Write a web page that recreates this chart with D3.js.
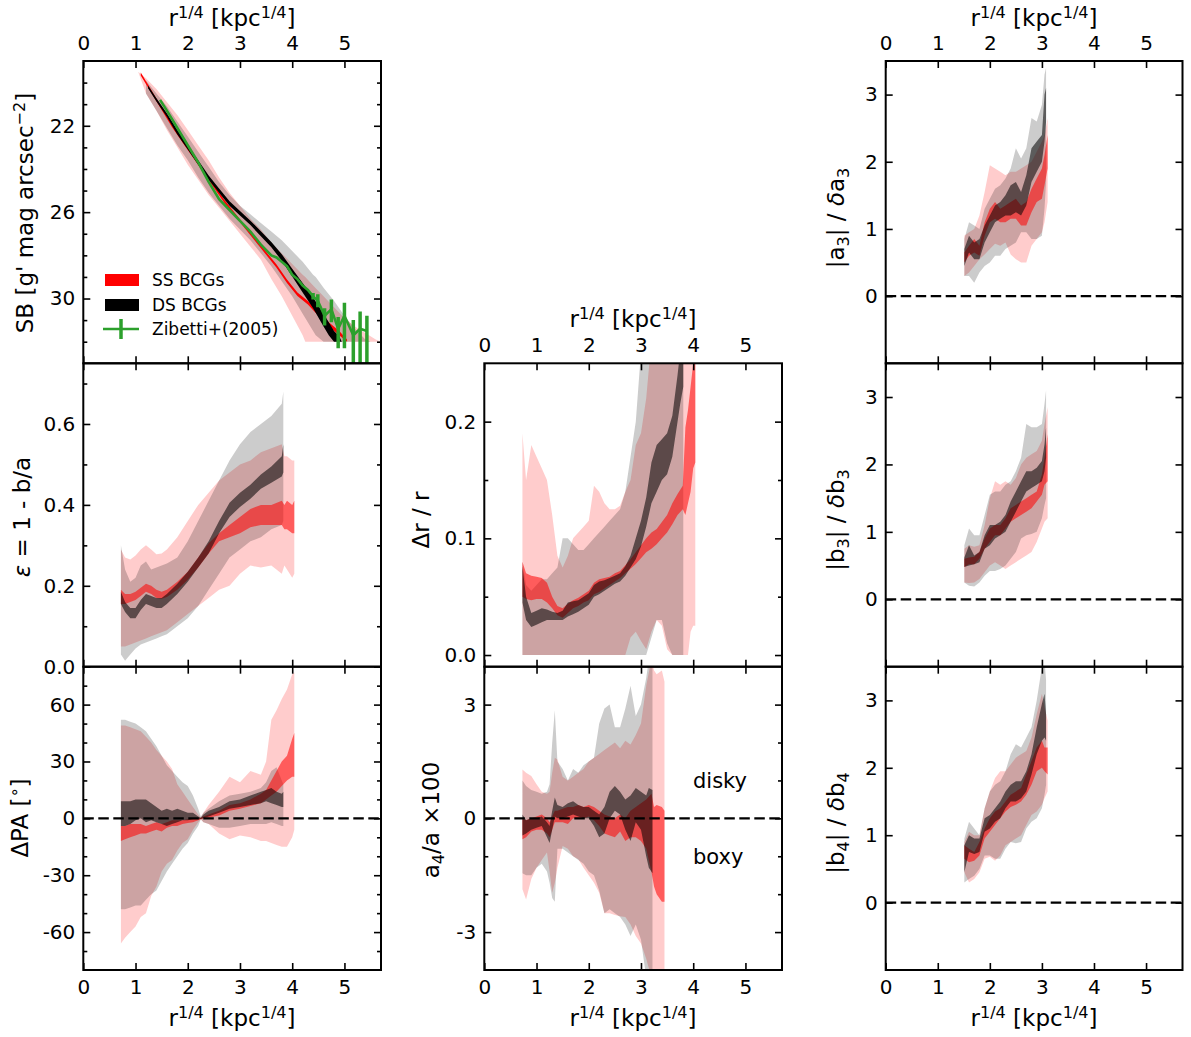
<!DOCTYPE html>
<html><head><meta charset="utf-8">
<script src="https://cdn.jsdelivr.net/npm/d3@7"></script>
<style>body{margin:0;background:#fff}svg{display:block}text{font-family:"DejaVu Sans",sans-serif}</style>
</head><body><svg id="c" width="1191" height="1037"></svg>
<script>
// ---------------- DATA ----------------
const xTicks=[0,1,2,3,4,5];
const xTickLabels=["0","1","2","3","4","5"];

// SB panel
const sbTicks=[22,26,30], sbTickLabels=["22","26","30"], sbMinor=[20,21,23,24,25,27,28,29,31,32];
const sbRX=[1.05,1.2,1.4,1.6,1.8,2.0,2.2,2.4,2.6,2.8,3.0,3.2,3.4,3.6,3.8,4.0,4.2,4.25,4.4,4.6,4.8,5.0,5.2,5.4,5.6,5.7];
const sbRHi=[19.5,19.8,20.3,20.9,21.5,22.2,22.9,23.6,24.4,25.1,25.7,26.3,26.8,27.4,27.9,28.4,28.9,29.0,29.4,29.9,30.4,30.9,31.3,31.6,31.9,32.0];
const sbRLo=[19.5,20.5,21.3,22.2,23.0,23.8,24.5,25.2,25.8,26.4,27.0,27.6,28.2,29.1,29.9,30.8,31.7,32.0,32.0,32.0,32.0,32.0,32.0,32.0,32.0,32.0];
const sbBX=[1.2,1.4,1.6,1.8,2.0,2.2,2.4,2.6,2.8,3.0,3.2,3.4,3.6,3.8,4.0,4.2,4.4,4.45,4.6,4.8,5.0,5.2,5.4,5.5];
const sbBHi=[19.9,20.5,21.1,21.8,22.5,23.2,23.9,24.6,25.2,25.7,26.1,26.5,26.9,27.3,27.8,28.3,28.9,29.0,29.5,30.1,30.8,31.4,31.9,32.0];
const sbBLo=[20.5,21.3,22.1,22.9,23.6,24.4,25.1,25.7,26.3,26.8,27.3,27.9,28.5,29.2,29.9,30.7,31.5,31.7,32.0,32.0,32.0,32.0,32.0,32.0];
const sbRMX=[1.1,1.3,1.5,1.7,1.9,2.1,2.3,2.5,2.7,2.9,3.1,3.3,3.5,3.7,3.9,4.1,4.3,4.5,4.7,4.9,5.05];
const sbRMHi=[19.53,20.33,21.13,21.93,22.63,23.33,24.03,24.73,25.43,26.03,26.63,27.23,27.83,28.43,29.12,29.72,30.12,30.6,31.1,31.5,31.9];
const sbRMLo=[19.67,20.47,21.27,22.07,22.77,23.47,24.17,24.87,25.57,26.17,26.77,27.37,27.97,28.57,29.28,29.88,30.28,30.8,31.3,31.7,32.0];
const sbBMX=[1.24,1.4,1.6,1.8,2.0,2.2,2.4,2.6,2.8,3.0,3.2,3.4,3.6,3.8,4.0,4.2,4.4,4.6,4.7,4.8,4.9,4.95];
const sbBMHi=[20.14,20.72,21.42,22.2,22.9,23.6,24.3,24.9,25.5,25.95,26.4,26.88,27.38,27.95,28.62,29.28,29.95,30.7,31.1,31.5,31.75,32.0];
const sbBMLo=[20.26,20.88,21.58,22.4,23.1,23.8,24.5,25.1,25.7,26.15,26.6,27.12,27.62,28.25,28.98,29.72,30.45,31.3,31.7,32.0,32.0,32.0];
// Zibetti+(2005)
const zibX=[1.47,1.6,1.8,2.0,2.2,2.4,2.6,2.8,3.0,3.2,3.4,3.6,3.7,3.8,3.9,4.0,4.1,4.2,4.3,4.4,4.49,4.62,4.75,4.88,5.0,5.17,5.3,5.43];
const zibSB=[20.8,21.3,22.1,22.9,23.7,24.6,25.4,25.9,26.4,26.9,27.5,28.0,28.1,28.3,28.5,28.9,29.1,29.4,29.6,29.9,30.1,30.8,30.5,31.4,30.8,31.7,31.4,31.5];
const zibErrUp=[0,0,0,0,0,0,0,0,0,0,0,0,0,0,0,0,0,0,0,0.15,0.3,0.35,0.45,0.55,0.6,0.7,0.8,0.7];
const zibErrDown=[0,0,0,0,0,0,0,0,0,0,0,0,0,0,0,0,0,0,0,0.15,0.3,0.45,0.6,0.9,1.5,2,2,2];

// ellipticity
const epsTicks=[0,0.2,0.4,0.6], epsTickLabels=["0.0","0.2","0.4","0.6"], epsMinor=[0.1,0.3,0.5,0.7];
const epsRX=[0.72,0.8,0.9,1.0,1.1,1.2,1.3,1.4,1.5,1.6,1.8,2.0,2.2,2.4,2.6,2.8,3.0,3.2,3.4,3.6,3.8,3.85,3.9,4.0,4.04];
const epsRHi=[0.29,0.27,0.265,0.275,0.29,0.30,0.29,0.278,0.28,0.29,0.32,0.36,0.40,0.43,0.46,0.48,0.50,0.51,0.53,0.54,0.55,0.52,0.52,0.51,0.51];
const epsRLo=[0.05,0.05,0.055,0.06,0.065,0.07,0.075,0.08,0.085,0.09,0.11,0.13,0.15,0.17,0.19,0.20,0.23,0.25,0.245,0.25,0.23,0.25,0.24,0.22,0.23];
const epsRMHi=[0.19,0.18,0.18,0.185,0.195,0.205,0.20,0.19,0.185,0.19,0.21,0.235,0.27,0.305,0.33,0.35,0.37,0.39,0.40,0.40,0.41,0.40,0.41,0.40,0.41];
const epsRMLo=[0.155,0.155,0.16,0.165,0.175,0.185,0.18,0.17,0.168,0.172,0.19,0.215,0.245,0.28,0.31,0.32,0.33,0.345,0.35,0.35,0.35,0.34,0.34,0.33,0.33];
const epsBX=[0.72,0.8,0.9,1.0,1.1,1.2,1.3,1.4,1.5,1.6,1.8,2.0,2.2,2.4,2.6,2.8,3.0,3.2,3.4,3.6,3.8,3.83];
const epsBHi=[0.30,0.24,0.21,0.22,0.25,0.26,0.24,0.245,0.25,0.255,0.27,0.31,0.36,0.41,0.46,0.51,0.55,0.58,0.60,0.62,0.65,0.68];
const epsBLo=[0.03,0.015,0.03,0.045,0.055,0.06,0.065,0.07,0.075,0.08,0.10,0.12,0.15,0.19,0.23,0.27,0.29,0.31,0.32,0.34,0.35,0.36];
const epsBMHi=[0.185,0.16,0.145,0.145,0.165,0.18,0.175,0.17,0.17,0.18,0.205,0.235,0.27,0.31,0.36,0.405,0.43,0.45,0.475,0.495,0.52,0.55];
const epsBMLo=[0.155,0.135,0.12,0.12,0.14,0.155,0.15,0.145,0.145,0.155,0.18,0.21,0.245,0.28,0.33,0.37,0.395,0.415,0.44,0.455,0.47,0.48];

// position angle
const paTicks=[-60,-30,0,30,60], paTickLabels=["-60","-30","0","30","60"], paMinor=[-70,-50,-40,-20,-10,10,20,40,50,70];
const paRX=[0.72,0.8,0.9,1.0,1.1,1.2,1.3,1.4,1.5,1.6,1.7,1.8,1.9,2.0,2.1,2.2,2.25,2.3,2.4,2.6,2.8,3.0,3.2,3.4,3.5,3.6,3.7,3.8,3.9,4.0,4.04];
const paRHi=[49,49,48,47,46,43,40,36,33,30,26,18,14,10,6,2,0.5,3,7,14,22,19,25,23,30,52,57,63,68,76,77];
const paRLo=[-66,-63,-60,-57,-52,-50,-41,-36,-28,-24,-22,-17,-13,-11,-6,-2,-0.5,-2,-3,-8,-11,-9,-10,-12,-12,-13,-14,-15,-15,-10,-6];
const paRMHi=[-4,-4,-3,-3,-3,-4,-3,-2,-3,-2,-1,-1,-1,-0.5,0,0,0.3,1,2,4,7,8,10,13,15,20,25,30,33,42,45];
const paRMLo=[-12,-11,-10,-9,-8,-8,-7,-6,-7,-5,-4,-4,-3,-2.5,-2,-1,-0.5,0,0.5,1.5,4,5,6.5,8,10,12,14,17,20,22,22];
const paBX=[0.72,0.8,0.9,1.0,1.1,1.2,1.3,1.4,1.5,1.6,1.7,1.8,1.9,2.0,2.1,2.2,2.25,2.3,2.4,2.6,2.8,3.0,3.2,3.4,3.5,3.6,3.7,3.8,3.83];
const paBHi=[52,52,51,50,48,46,42,38,33,28,25,22,19,17,12,5,1,3,5,9,12,13,14,16,19,25,27,20,18];
const paBLo=[-48,-48,-47,-46,-46,-43,-40,-38,-33,-28,-24,-20,-16,-13,-8,-4,-0.5,-2,-3,-5,-5,-4,-3,-3,-3,-2,-3,-4,-4];
const paBMHi=[9,9,9,10,10,10,8,6,4,5,4,5,4,3,3,1,0.3,2,4,6,9,10,12,14,15,16,14,13,14];
const paBMLo=[-4,-4,-3,-1,0,-2,-1,-2,-3,-4,-3,-2,-1,-1,-0.5,-0.5,-0.3,0,1,3,5,6,7,8,9,8,7,6,6];

// delta r / r
const drTicks=[0,0.1,0.2], drTickLabels=["0.0","0.1","0.2"], drMinor=[0.05,0.15];
const drRX=[0.73,0.8,0.9,1.0,1.1,1.2,1.3,1.4,1.5,1.6,1.7,1.8,1.9,2.0,2.1,2.2,2.3,2.4,2.5,2.6,2.7,2.8,2.9,3.0,3.1,3.2,3.3,3.4,3.5,3.6,3.7,3.8,3.85,3.9,3.95,4.0,4.04];
const drRHi=[0.19,0.15,0.18,0.17,0.16,0.15,0.12,0.085,0.075,0.085,0.10,0.105,0.11,0.115,0.145,0.14,0.13,0.125,0.125,0.128,0.14,0.15,0.18,0.19,0.22,0.27,0.3,0.3,0.3,0.3,0.3,0.3,0.3,0.3,0.3,0.3,0.3];
const drRLo=[0,0,0,0,0,0,0,0,0,0,0,0,0,0,0,0,0,0,0,0,0,0.015,0.02,0.012,0.005,0.02,0.03,0.025,0.005,0,0,0,0,0,0.02,0.025,0.025];
const drRMHi=[0.08,0.07,0.068,0.067,0.066,0.062,0.05,0.042,0.04,0.044,0.047,0.049,0.052,0.055,0.062,0.065,0.066,0.067,0.07,0.072,0.077,0.082,0.088,0.094,0.1,0.105,0.108,0.114,0.12,0.13,0.138,0.145,0.195,0.21,0.23,0.25,0.26];
const drRMLo=[0.05,0.048,0.047,0.048,0.048,0.045,0.04,0.034,0.032,0.036,0.04,0.042,0.045,0.047,0.052,0.054,0.057,0.06,0.063,0.066,0.07,0.074,0.078,0.083,0.088,0.091,0.095,0.1,0.105,0.112,0.12,0.125,0.12,0.13,0.14,0.16,0.165];
const drBX=[0.73,0.8,0.9,1.0,1.1,1.2,1.3,1.4,1.5,1.6,1.7,1.8,1.9,2.0,2.1,2.2,2.3,2.4,2.5,2.6,2.7,2.8,2.9,3.0,3.1,3.2,3.3,3.4,3.5,3.6,3.7,3.75,3.81];
const drBHi=[0.08,0.06,0.055,0.06,0.065,0.065,0.07,0.075,0.1,0.1,0.095,0.09,0.09,0.095,0.1,0.105,0.11,0.115,0.12,0.125,0.14,0.17,0.2,0.26,0.3,0.3,0.3,0.3,0.3,0.3,0.3,0.3,0.3];
const drBLo=[0,0,0,0,0,0,0,0,0,0,0,0,0,0,0,0,0,0,0,0,0,0,0,0,0,0.015,0.03,0.03,0.01,0,0,0,0];
const drBMHi=[0.076,0.05,0.036,0.038,0.04,0.039,0.037,0.036,0.038,0.045,0.046,0.047,0.05,0.053,0.06,0.063,0.064,0.066,0.068,0.07,0.076,0.085,0.1,0.115,0.135,0.165,0.18,0.185,0.19,0.205,0.24,0.26,0.27];
const drBMLo=[0.045,0.03,0.024,0.026,0.028,0.03,0.03,0.03,0.03,0.033,0.035,0.037,0.04,0.043,0.05,0.052,0.055,0.058,0.061,0.063,0.068,0.075,0.082,0.093,0.11,0.13,0.14,0.15,0.155,0.17,0.2,0.215,0.23];

// a4/a x100
const a4Ticks=[-3,0,3], a4TickLabels=["-3","0","3"], a4Minor=[-2,-1,1,2];
const a4RX=[0.73,0.8,0.9,1.0,1.1,1.2,1.25,1.3,1.35,1.4,1.5,1.6,1.7,1.8,1.9,2.0,2.1,2.2,2.3,2.4,2.5,2.6,2.7,2.8,2.9,3.0,3.1,3.2,3.25,3.3,3.4,3.45];
const a4RHi=[1.29,1.2,1.12,0.9,0.7,0.65,0.7,1.2,1.6,1.55,1.1,1.0,1.1,1.2,1.3,1.5,1.6,1.7,1.8,1.9,2.0,1.85,2.05,1.95,2.2,2.5,3.5,4.2,3.9,3.8,3.9,3.6];
const a4RLo=[-1.87,-2.14,-1.6,-1.3,-1.1,-0.9,-1.4,-1.96,-1.7,-1.3,-0.73,-0.8,-1.0,-1.08,-1.3,-1.5,-1.7,-1.96,-2.5,-2.5,-2.55,-2.58,-2.6,-2.8,-3.1,-3.3,-3.7,-4.2,-4.2,-4.2,-4.2,-4.2];
const a4RMHi=[0.0,-0.05,0.0,0.05,0.1,0.0,-0.1,0.05,0.2,0.2,0.25,0.3,0.3,0.35,0.3,0.35,0.3,0.2,0.1,0.05,0.0,0.1,0.0,0.2,0.3,0.4,0.5,0.65,0.3,0.35,0.3,0.2];
const a4RMLo=[-0.55,-0.5,-0.35,-0.3,-0.3,-0.4,-0.5,-0.3,-0.1,-0.1,-0.1,-0.15,0.0,0.0,0.0,0.05,-0.05,-0.2,-0.4,-0.45,-0.5,-0.35,-0.6,-0.5,-0.5,-0.6,-0.8,-1.4,-1.8,-2.0,-2.2,-2.2];
const a4BX=[0.73,0.8,0.9,1.0,1.1,1.2,1.25,1.3,1.35,1.4,1.5,1.6,1.7,1.8,1.9,2.0,2.1,2.2,2.3,2.4,2.5,2.6,2.7,2.8,2.9,3.0,3.1,3.15,3.22];
const a4BHi=[1.0,0.85,0.75,0.7,0.65,0.7,0.9,2.0,2.85,1.5,1.3,1.0,1.3,1.2,1.4,1.5,1.6,2.5,2.9,3.0,2.4,2.4,2.9,3.5,2.7,3.0,3.7,4.2,4.2];
const a4BLo=[-1.45,-1.5,-1.5,-1.3,-1.2,-1.4,-1.7,-2.1,-2.2,-0.8,-0.8,-0.9,-1.0,-1.1,-1.2,-1.4,-1.5,-1.9,-2.5,-2.4,-2.5,-2.6,-2.8,-3.1,-2.8,-3.2,-4.2,-4.2,-4.2];
const a4BMHi=[0.1,-0.05,0.0,0.0,0.05,-0.1,-0.2,0.2,0.55,0.35,0.3,0.4,0.45,0.35,0.3,0.3,0.2,0.1,0.3,0.7,0.85,0.7,0.5,0.6,0.8,0.7,0.6,0.8,0.75];
const a4BMLo=[-0.45,-0.4,-0.3,-0.25,-0.2,-0.5,-0.65,-0.3,0.05,0.0,0.0,0.05,0.1,0.05,0.0,0.0,-0.2,-0.5,-0.4,0.0,0.2,0.1,-0.3,-0.6,-0.1,-0.3,-1.0,-1.3,-1.45];

// harmonic significance panels (right column)
const hTicks=[0,1,2,3], hTickLabels=["0","1","2","3"];
const hRX=[1.51,1.6,1.7,1.8,1.9,2.0,2.1,2.2,2.3,2.4,2.5,2.6,2.7,2.8,2.9,3.0,3.05,3.11];
const hBX=[1.51,1.6,1.7,1.8,1.9,2.0,2.1,2.2,2.3,2.4,2.5,2.6,2.7,2.8,2.9,3.0,3.05,3.08];
const a3RHi=[0.9,0.95,1.0,1.2,1.55,1.95,1.9,1.85,1.8,1.85,1.85,1.9,1.95,2.0,2.15,2.3,2.4,2.65];
const a3RLo=[0.3,0.35,0.45,0.55,0.62,0.7,0.78,0.75,0.8,0.62,0.55,0.5,0.5,0.75,0.85,0.95,1.1,1.4];
const a3RMHi=[0.65,0.75,0.85,0.75,1.1,1.3,1.4,1.3,1.35,1.4,1.45,1.35,1.4,1.6,1.75,1.9,2.1,2.4];
const a3RMLo=[0.5,0.6,0.65,0.6,0.9,1.1,1.15,1.1,1.1,1.15,1.15,1.05,1.05,1.25,1.4,1.45,1.65,1.9];
const a3BHi=[0.85,1.1,1.05,1.0,1.3,1.45,1.6,1.65,1.75,1.9,2.2,2.05,2.2,2.65,2.6,2.85,3.3,3.4];
const a3BLo=[0.3,0.3,0.2,0.35,0.45,0.5,0.6,0.6,0.7,0.75,0.8,0.95,0.95,0.85,0.85,0.9,1.3,1.7];
const a3BMHi=[0.7,0.9,0.8,0.85,1.05,1.2,1.35,1.4,1.5,1.65,1.7,1.55,1.8,2.2,2.3,2.4,3.0,3.1];
const a3BMLo=[0.45,0.65,0.55,0.55,0.8,0.95,1.1,1.15,1.2,1.2,1.25,1.2,1.35,1.7,1.85,2.0,2.3,2.6];

const b3RHi=[0.75,0.8,0.78,0.8,1.1,1.5,1.75,1.7,1.75,1.7,1.8,2.0,2.1,2.15,2.2,2.35,2.6,2.85];
const b3RLo=[0.25,0.24,0.25,0.3,0.4,0.5,0.55,0.5,0.45,0.5,0.55,0.6,0.65,0.7,0.85,1.05,1.15,1.2];
const b3RMHi=[0.6,0.62,0.63,0.7,0.9,1.05,1.1,1.1,1.2,1.35,1.4,1.45,1.5,1.55,1.6,1.85,2.1,2.45];
const b3RMLo=[0.48,0.52,0.52,0.6,0.75,0.85,0.95,0.95,1.05,1.15,1.2,1.25,1.3,1.35,1.45,1.55,1.7,1.75];
const b3BHi=[0.8,1.05,0.95,0.95,1.25,1.55,1.6,1.6,1.7,1.75,1.9,2.1,2.6,2.55,2.55,2.6,2.9,3.1];
const b3BLo=[0.25,0.2,0.19,0.25,0.35,0.42,0.42,0.45,0.5,0.6,0.7,0.9,0.95,0.97,1.0,1.2,1.4,1.5];
const b3BMHi=[0.62,0.8,0.65,0.7,0.95,1.1,1.1,1.15,1.25,1.45,1.6,1.75,1.9,1.9,1.95,2.05,2.3,2.55];
const b3BMLo=[0.48,0.5,0.52,0.55,0.75,0.8,0.9,0.95,1.0,1.15,1.3,1.45,1.6,1.65,1.7,1.75,1.9,2.1];

const b4RHi=[0.9,1.05,1.0,1.0,1.4,1.65,1.85,1.95,1.95,2.05,2.15,2.2,2.25,2.45,2.8,3.1,2.9,2.7];
const b4RLo=[0.45,0.3,0.35,0.45,0.65,0.68,0.62,0.7,0.85,0.9,0.95,1.0,1.15,1.3,1.35,1.45,1.55,1.65];
const b4RMHi=[0.85,0.8,0.75,0.9,1.1,1.25,1.35,1.4,1.5,1.6,1.65,1.7,1.9,2.1,2.3,2.4,2.3,2.3];
const b4RMLo=[0.65,0.6,0.62,0.7,0.95,1.05,1.15,1.25,1.35,1.42,1.45,1.5,1.6,1.75,1.95,2.0,1.95,1.9];
const b4BHi=[0.95,1.2,1.1,1.0,1.4,1.65,1.75,1.8,1.95,2.2,2.35,2.3,2.45,2.6,3.0,3.5,3.6,3.3];
const b4BLo=[0.3,0.35,0.4,0.5,0.7,0.7,0.65,0.65,0.8,0.9,0.88,0.9,1.1,1.2,1.25,1.4,1.6,1.75];
const b4BMHi=[0.85,1.0,0.95,0.95,1.25,1.3,1.4,1.5,1.65,1.75,1.8,1.8,1.95,2.2,2.6,2.95,3.1,2.8];
const b4BMLo=[0.45,0.75,0.72,0.75,1.05,1.1,1.2,1.25,1.4,1.5,1.5,1.55,1.65,1.9,2.2,2.4,2.45,2.4];

const legendLabels=["SS BCGs","DS BCGs","Zibetti+(2005)"];

// ---------------- LAYOUT ----------------
const svg=d3.select("#c");
svg.append("rect").attr("width",1191).attr("height",1037).attr("fill","#fff");
const colX=[[83.3,381],[484.3,782],[885.7,1182.5]];
const rowY=[[61,363.3],[363.3,666.7],[666.7,970]];
const RED="#ff0000", BLK="#000000";

function bandsOf(rx,rLo,rHi,bx,bLo,bHi,rmx,rmLo,rmHi,bmx,bmLo,bmHi,inOp){
  return [{x:rx,lo:rLo,hi:rHi,c:RED,o:0.2},{x:bx,lo:bLo,hi:bHi,c:BLK,o:0.2},
          {x:rmx,lo:rmLo,hi:rmHi,c:RED,o:inOp},{x:bmx,lo:bmLo,hi:bmHi,c:BLK,o:inOp}];
}

const panels=[
 {id:"sb",col:0,row:0,yDom:[33,19],major:sbTicks,labels:sbTickLabels,minor:sbMinor,top:true,
  bands:bandsOf(sbRX,sbRLo,sbRHi,sbBX,sbBLo,sbBHi,sbRMX,sbRMLo,sbRMHi,sbBMX,sbBMLo,sbBMHi,1)},
 {id:"eps",col:0,row:1,yDom:[0,0.75],major:epsTicks,labels:epsTickLabels,minor:epsMinor,
  bands:bandsOf(epsRX,epsRLo,epsRHi,epsBX,epsBLo,epsBHi,epsRX,epsRMLo,epsRMHi,epsBX,epsBMLo,epsBMHi,0.55)},
 {id:"pa",col:0,row:2,yDom:[-80,80],major:paTicks,labels:paTickLabels,minor:paMinor,bottom:true,zero:true,
  bands:bandsOf(paRX,paRLo,paRHi,paBX,paBLo,paBHi,paRX,paRMLo,paRMHi,paBX,paBMLo,paBMHi,0.55)},
 {id:"dr",col:1,row:1,yDom:[-0.01,0.25],major:drTicks,labels:drTickLabels,minor:drMinor,top:true,
  bands:bandsOf(drRX,drRLo,drRHi,drBX,drBLo,drBHi,drRX,drRMLo,drRMHi,drBX,drBMLo,drBMHi,0.55)},
 {id:"a4",col:1,row:2,yDom:[-4,4],major:a4Ticks,labels:a4TickLabels,minor:a4Minor,bottom:true,zero:true,
  bands:bandsOf(a4RX,a4RLo,a4RHi,a4BX,a4BLo,a4BHi,a4RX,a4RMLo,a4RMHi,a4BX,a4BMLo,a4BMHi,0.55)},
 {id:"a3",col:2,row:0,yDom:[-1,3.5],major:hTicks,labels:hTickLabels,minor:[],top:true,zero:true,
  bands:bandsOf(hRX,a3RLo,a3RHi,hBX,a3BLo,a3BHi,hRX,a3RMLo,a3RMHi,hBX,a3BMLo,a3BMHi,0.55)},
 {id:"b3",col:2,row:1,yDom:[-1,3.5],major:hTicks,labels:hTickLabels,minor:[],zero:true,
  bands:bandsOf(hRX,b3RLo,b3RHi,hBX,b3BLo,b3BHi,hRX,b3RMLo,b3RMHi,hBX,b3BMLo,b3BMHi,0.55)},
 {id:"b4",col:2,row:2,yDom:[-1,3.5],major:hTicks,labels:hTickLabels,minor:[],bottom:true,zero:true,
  bands:bandsOf(hRX,b4RLo,b4RHi,hBX,b4BLo,b4BHi,hRX,b4RMLo,b4RMHi,hBX,b4BMLo,b4BMHi,0.55)}
];

function styleAxis(g){
  g.select(".domain").remove();
  g.attr("font-size",null).attr("font-family",null);
  g.selectAll("line").attr("stroke","#000").attr("stroke-width",1.6);
  g.selectAll("text").attr("font-size",20).attr("fill","#000").style("font-family","'DejaVu Sans',sans-serif");
}

const scales={};
panels.forEach(p=>{
  const [L,R]=colX[p.col],[T,B]=rowY[p.row];
  const x=d3.scaleLinear().domain([0,5.7]).range([L,R]);
  const y=d3.scaleLinear().domain(p.yDom).range([B,T]);
  scales[p.id]={x,y};
  svg.append("clipPath").attr("id","clip-"+p.id).append("rect").attr("x",L).attr("y",T).attr("width",R-L).attr("height",B-T);
  const g=svg.append("g").attr("clip-path",`url(#clip-${p.id})`).attr("id","g-"+p.id);
  p.bands.forEach(b=>{
    const idx=d3.range(b.x.length);
    g.append("path").datum(idx)
      .attr("d",d3.area().x(i=>x(b.x[i])).y0(i=>y(b.lo[i])).y1(i=>y(b.hi[i])))
      .attr("fill",b.c).attr("fill-opacity",b.o);
  });
  if(p.zero){
    g.append("line").attr("x1",L).attr("x2",R).attr("y1",y(0)).attr("y2",y(0))
      .attr("stroke","#000").attr("stroke-width",2.2).attr("stroke-dasharray","10.5,4.5");
  }
  const fmt=(d,i)=>p.labels[i];
  svg.append("g").attr("transform",`translate(${L},0)`)
    .call(d3.axisLeft(y).tickValues(p.major).tickFormat(fmt).tickSizeInner(-7).tickSizeOuter(0).tickPadding(8)).call(styleAxis);
  svg.append("g").attr("transform",`translate(${R},0)`)
    .call(d3.axisRight(y).tickValues(p.major).tickFormat("").tickSizeInner(-7).tickSizeOuter(0)).call(styleAxis);
  if(p.minor.length){
    svg.append("g").attr("transform",`translate(${L},0)`)
      .call(d3.axisLeft(y).tickValues(p.minor).tickFormat("").tickSizeInner(-4).tickSizeOuter(0)).call(styleAxis);
    svg.append("g").attr("transform",`translate(${R},0)`)
      .call(d3.axisRight(y).tickValues(p.minor).tickFormat("").tickSizeInner(-4).tickSizeOuter(0)).call(styleAxis);
  }
  svg.append("g").attr("transform",`translate(0,${T})`)
    .call(d3.axisTop(x).tickValues(xTicks).tickFormat(p.top?((d,i)=>xTickLabels[i]):"").tickSizeInner(-7).tickSizeOuter(0).tickPadding(11)).call(styleAxis);
  svg.append("g").attr("transform",`translate(0,${B})`)
    .call(d3.axisBottom(x).tickValues(xTicks).tickFormat(p.bottom?((d,i)=>xTickLabels[i]):"").tickSizeInner(-7).tickSizeOuter(0).tickPadding(10)).call(styleAxis);
  svg.append("rect").attr("x",L).attr("y",T).attr("width",R-L).attr("height",B-T)
    .attr("fill","none").attr("stroke","#000").attr("stroke-width",2);
});

// Zibetti profile with error bars
(function(){
  const {x,y}=scales.sb;
  const g=svg.select("#g-sb");
  const idx=d3.range(zibX.length);
  g.append("path").datum(idx).attr("d",d3.line().x(i=>x(zibX[i])).y(i=>y(zibSB[i])))
    .attr("fill","none").attr("stroke","#2ca02c").attr("stroke-width",2.6);
  g.selectAll("line.eb").data(idx.filter(i=>zibErrUp[i]>0)).enter().append("line")
    .attr("x1",i=>x(zibX[i])).attr("x2",i=>x(zibX[i]))
    .attr("y1",i=>y(zibSB[i]-zibErrUp[i])).attr("y2",i=>y(zibSB[i]+zibErrDown[i]))
    .attr("stroke","#2ca02c").attr("stroke-width",3.5);
})();

// legend
(function(){
  const lg=svg.append("g");
  lg.append("rect").attr("x",105).attr("y",274).attr("width",34).attr("height",12).attr("fill",RED);
  lg.append("rect").attr("x",105).attr("y",299).attr("width",34).attr("height",12).attr("fill",BLK);
  lg.append("line").attr("x1",103).attr("x2",139).attr("y1",329).attr("y2",329).attr("stroke","#2ca02c").attr("stroke-width",2.6);
  lg.append("line").attr("x1",121).attr("x2",121).attr("y1",319).attr("y2",339).attr("stroke","#2ca02c").attr("stroke-width",3.5);
  [280,305,329].forEach((yy,i)=>lg.append("text").attr("x",152).attr("y",yy).attr("dy","0.35em")
     .attr("font-size",17).text(legendLabels[i]));
})();

// rich text helper
function rich(t,parts,size){
  let shift=0;
  parts.forEach(p=>{
    const target=p.sup?-0.34*size:(p.sub?0.22*size:0);
    const ts=t.append("tspan").text(p.t).attr("dy",target-shift);
    shift=target;
    if(p.sup||p.sub) ts.attr("font-size",size*0.7);
    if(p.it) ts.attr("font-style","italic");
  });
}
const LS=23;
const xLabParts=[{t:"r"},{t:"1/4",sup:true},{t:" [kpc"},{t:"1/4",sup:true},{t:"]"}];
function xLabel(cx,by){ const t=svg.append("text").attr("x",cx).attr("y",by).attr("text-anchor","middle").attr("font-size",LS); rich(t,xLabParts,LS); }
[[232,26],[633,327],[1034,26],[232,1026],[633,1026],[1034,1026]].forEach(d=>xLabel(d[0],d[1]));

function yLabel(bx,cy,parts){ const t=svg.append("text").attr("transform",`translate(${bx},${cy}) rotate(-90)`).attr("text-anchor","middle").attr("font-size",LS); rich(t,parts,LS); }
yLabel(33,213,[{t:"SB [g' mag arcsec"},{t:"−2",sup:true},{t:"]"}]);
yLabel(30,517,[{t:"ε",it:true},{t:" = 1 - b/a"}]);
yLabel(28,818,[{t:"ΔPA ["},{t:"∘",sup:true},{t:"]"}]);
yLabel(429,520,[{t:"Δr / r"}]);
yLabel(439,820,[{t:"a"},{t:"4",sub:true},{t:"/a ×100"}]);
yLabel(844,218,[{t:"|a"},{t:"3",sub:true},{t:"| / "},{t:"δ",it:true},{t:"a"},{t:"3",sub:true}]);
yLabel(844,520,[{t:"|b"},{t:"3",sub:true},{t:"| / "},{t:"δ",it:true},{t:"b"},{t:"3",sub:true}]);
yLabel(844,823,[{t:"|b"},{t:"4",sub:true},{t:"| / "},{t:"δ",it:true},{t:"b"},{t:"4",sub:true}]);

svg.append("text").attr("x",693).attr("y",788).attr("font-size",21).text("disky");
svg.append("text").attr("x",693).attr("y",864).attr("font-size",21).text("boxy");
</script></body></html>
